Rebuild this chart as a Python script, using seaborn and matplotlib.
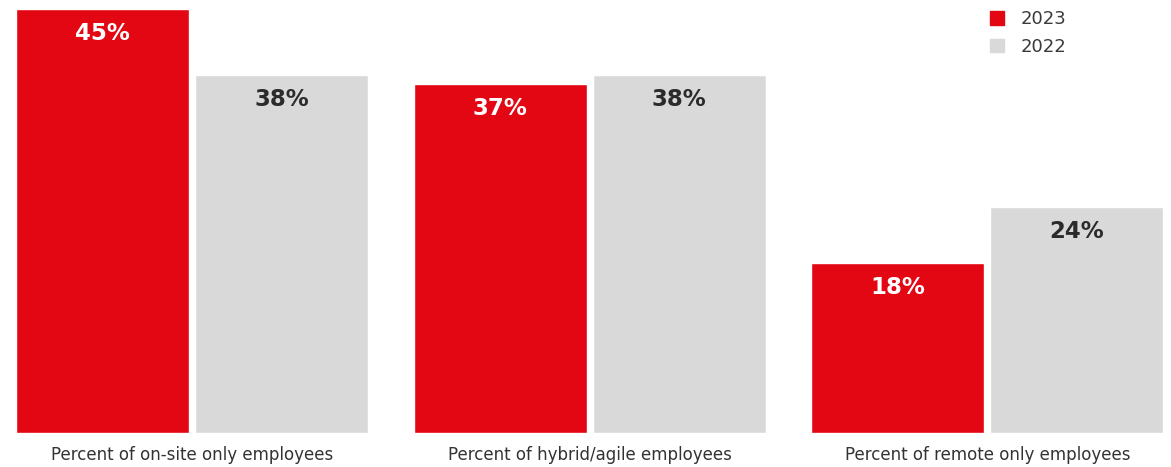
import pandas as pd
import seaborn as sns
import matplotlib.pyplot as plt
from matplotlib.patches import Patch

# data
categories = ["Percent of on-site only employees",
              "Percent of hybrid/agile employees",
              "Percent of remote only employees"]
years = ["2023", "2022"]
values_2023 = [45, 37, 18]
values_2022 = [38, 38, 24]

red = "#E30613"
grey = "#D9D9D9"

df = pd.DataFrame({
    "category": categories * 2,
    "year": ["2023"] * 3 + ["2022"] * 3,
    "value": values_2023 + values_2022,
})

sns.set_style("white")
plt.rcParams["font.family"] = ["DejaVu Sans"]

fig = plt.figure(figsize=(11.71, 4.67), dpi=100)
ax = fig.add_axes([0, 34 / 467, 1, 433 / 467])

sns.barplot(data=df, x="category", y="value", hue="year", hue_order=years,
            palette=[red, grey], width=0.9, gap=0.034, saturation=1,
            order=categories, legend=False, ax=ax)

ax.set_xlim(-192 / 397.7, (1171 - 192) / 397.7)
ax.set_ylim(0, 433 / 9.422)
ax.set(xlabel="", ylabel="", yticks=[])
sns.despine(left=True, bottom=True)
ax.tick_params(axis="x", length=0, pad=9.5, labelsize=12, labelcolor="#333333")

# value labels inside the top of each bar
for container, tc in zip(ax.containers, ["white", "#2b2b2b"]):
    for bar in container:
        h = bar.get_height()
        ax.annotate(f"{h:.0f}%", (bar.get_x() + bar.get_width() / 2, h),
                    xytext=(0, -17.5), textcoords="offset points",
                    ha="center", va="center", fontsize=16.5,
                    fontweight="bold", color=tc)

handles = [Patch(color=red), Patch(color=grey)]
leg = fig.legend(handles, years, loc="upper right",
                 bbox_to_anchor=(1074 / 1171, 1 - 3 / 467), frameon=False,
                 handlelength=0.75, handleheight=0.75, handletextpad=0.95,
                 labelspacing=0.55, fontsize=13, borderaxespad=0)
for t in leg.get_texts():
    t.set_color("#3a3a3a")

fig.savefig("out.png", dpi=100)
